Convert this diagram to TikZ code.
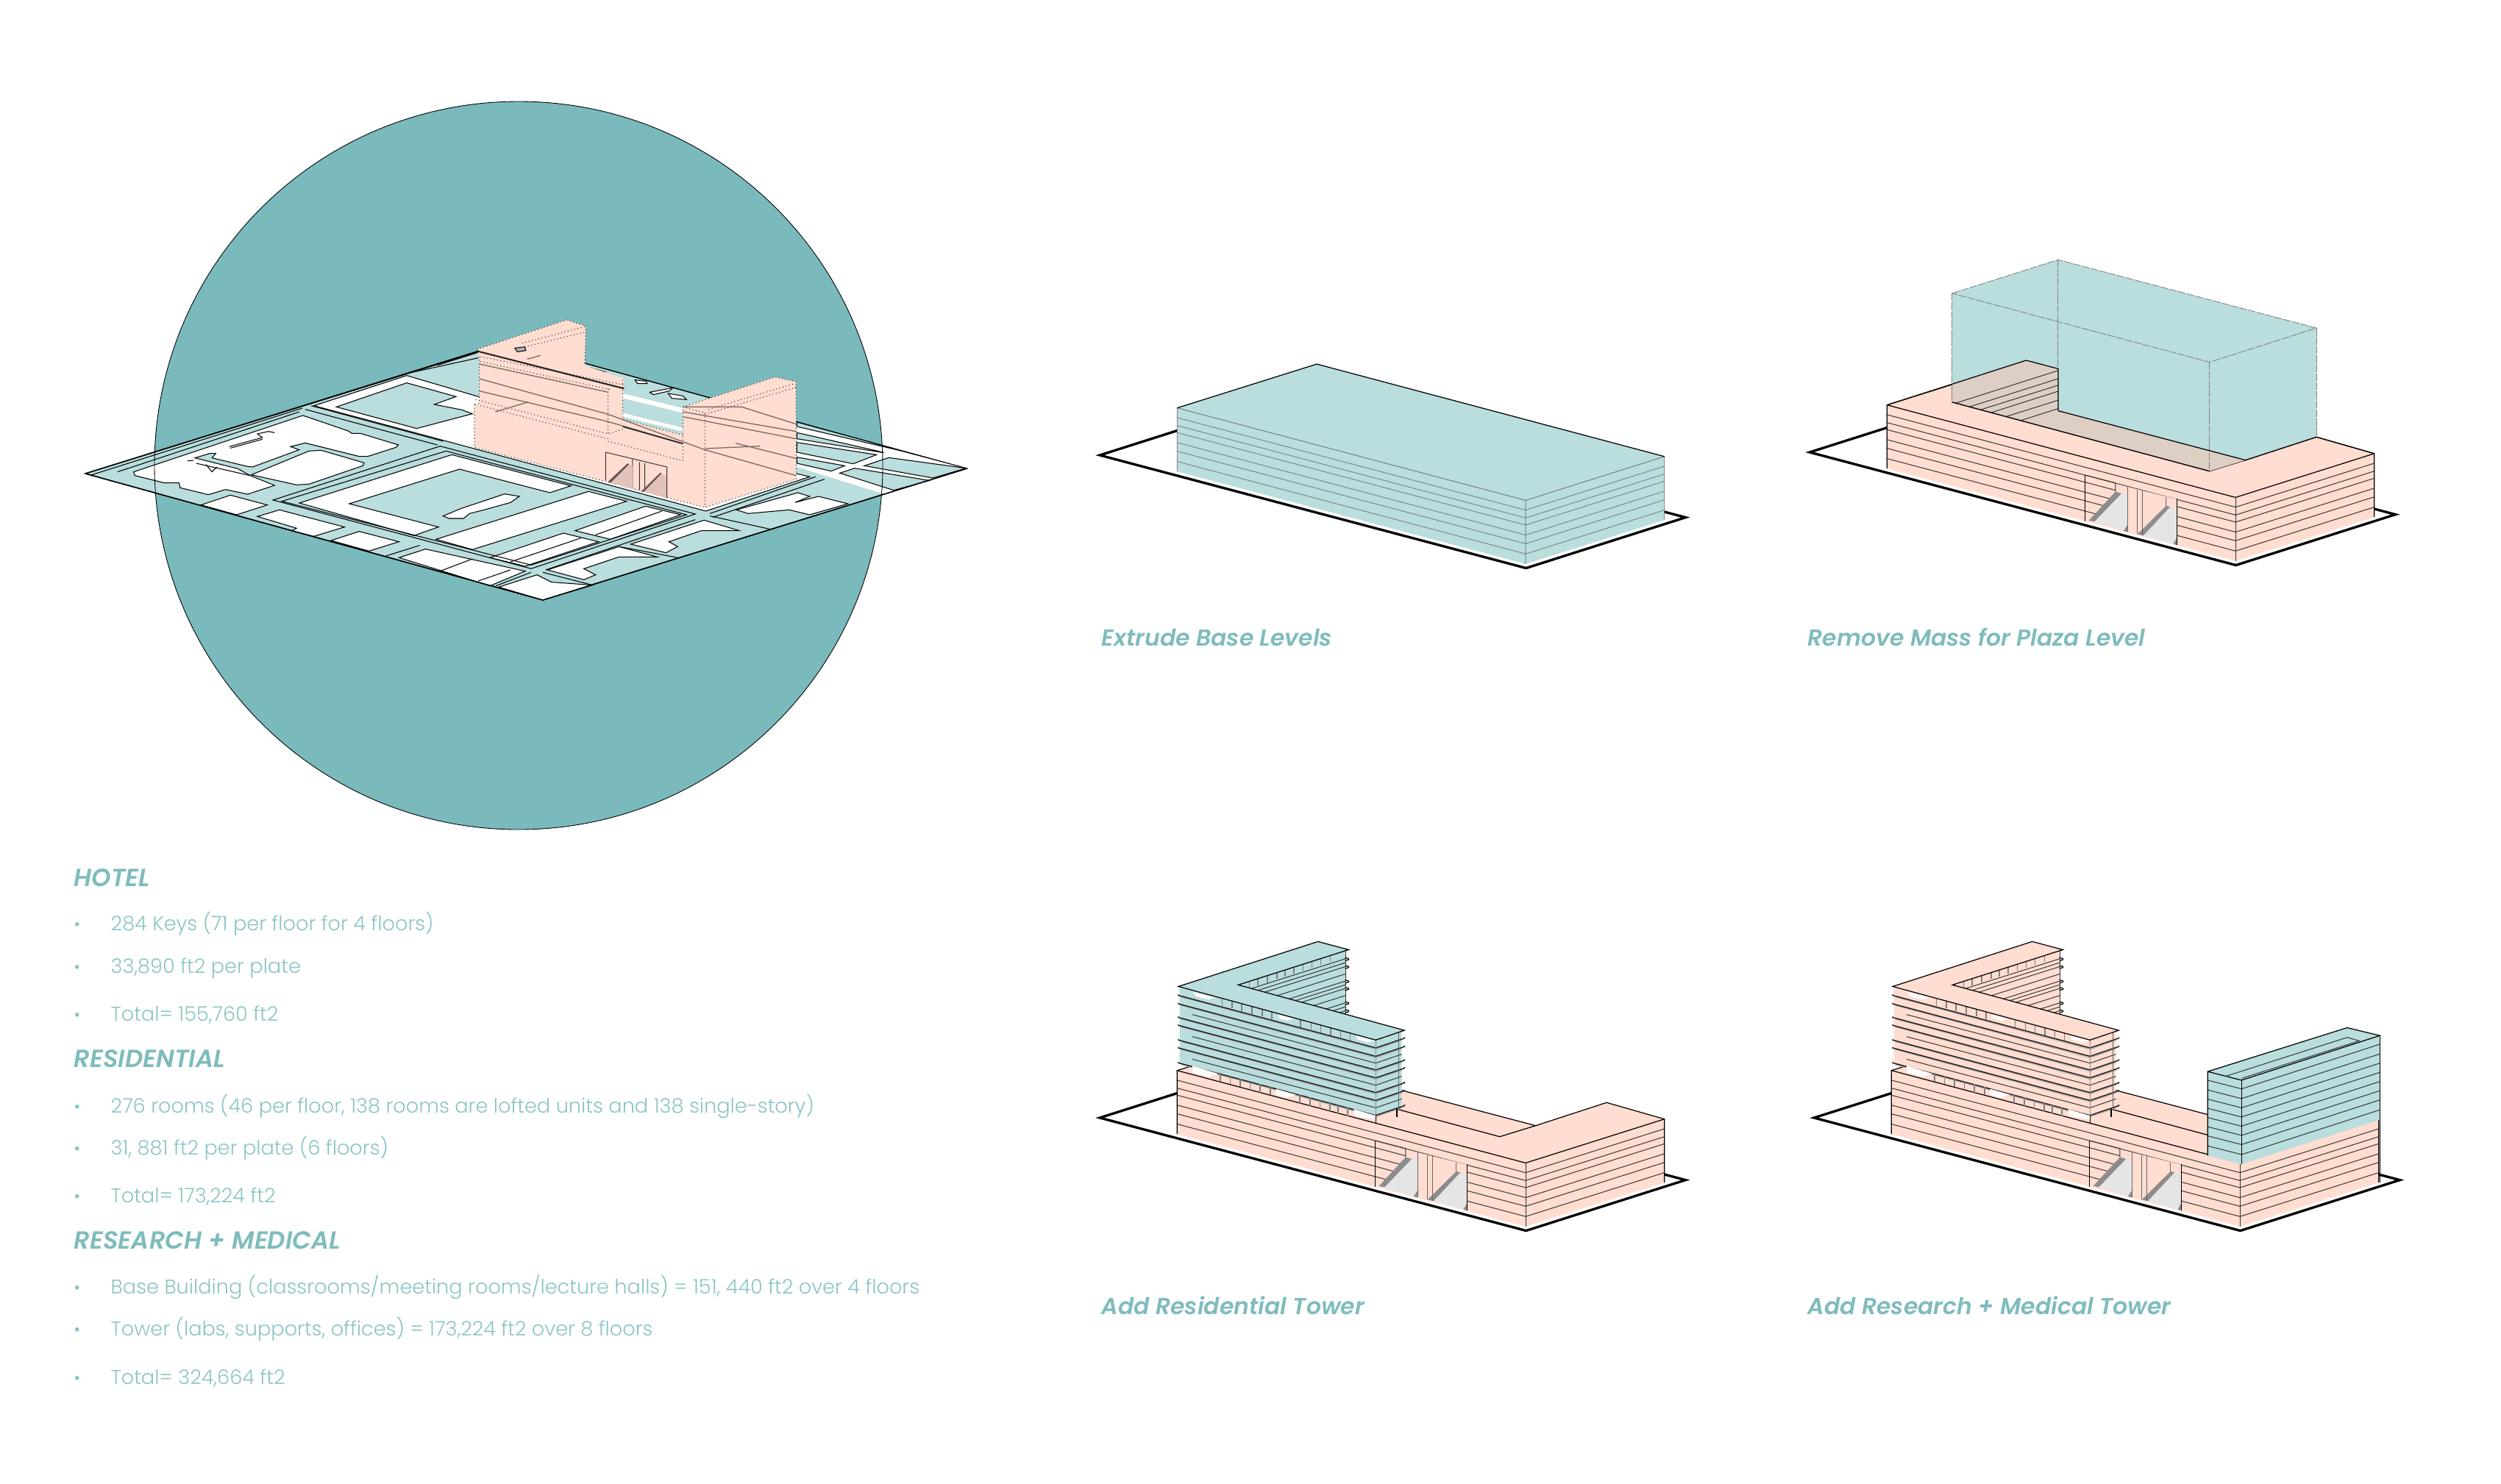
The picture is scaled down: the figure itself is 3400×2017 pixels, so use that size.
\documentclass[tikz,border=0pt]{standalone}
\usepackage{fontspec}
\usepackage{xcolor}
\usepackage{tikz}
\usetikzlibrary{positioning}
\newfontfamily\itemfont[UprightFont=* Light]{Poppins}
\newfontfamily\capfont[UprightFont=* SemiBold Italic]{Poppins}
\definecolor{discteal}{RGB}{122,186,188}
\definecolor{paleteal}{RGB}{186,221,221}
\definecolor{blush}{RGB}{255,221,208}
\definecolor{plazatone}{RGB}{221,207,196}
\definecolor{labelteal}{RGB}{127,188,188}
\definecolor{itemteal}{RGB}{140,196,196}
\definecolor{stipple}{RGB}{225,195,185}
\tikzset{
  panel/.style={xscale=0.542,yscale=0.3571},
  crop/.style={scale=0.3333},
  siteline/.style={line width=0.95pt,line join=miter},
  hair/.style={line width=0.28pt,black!80},
  edge/.style={line width=0.35pt,black},
  plot/.style={fill=white,draw=black,line width=0.3pt},
  ghost/.style={line width=0.25pt,black!50,dash pattern=on 3pt off 0.5pt},
  dots/.style={line width=0.3pt,black!85,densely dotted},
  capnode/.style={anchor=base west,inner sep=0pt,text=labelteal,font=\capfont\fontsize{8.95}{11}\selectfont},
  headnode/.style={anchor=base west,inner sep=0pt,text=labelteal,font=\capfont\fontsize{9.6}{11}\selectfont},
  itemnode/.style={anchor=base west,inner sep=0pt,text=itemteal,font=\itemfont\fontsize{7.73}{9}\selectfont},
  dotnode/.style={anchor=base,inner sep=0pt,text=itemteal,font=\itemfont\fontsize{7}{9}\selectfont}
}
% lot outline under every massing
\newcommand{\siteplate}{\draw[siteline] (28,728)--(1097,1158)--(1497,965)--(428,535)--cycle;}
% floors of the base on both visible faces
\newcommand{\basefloors}{
  \foreach \d in {37,67,94,132,165,204}
    \draw[hair] (222,548+\d)--(1096,900+\d)--(1444,733+\d);
}
% u-shaped base with the two stair openings
\newcommand{\ubase}{
  \fill[white] (222,790)--(1096,1142)--(1444,975)--(1444,733)--(572,381)--(222,548)--cycle;
  \fill[blush] (222,548)--(572,381)--(651,410)--(651,570)--(1121,758)--(1299,670)--(1444,733)
    --(1444,975)--(1096,1142)--(222,790)--cycle;
  \basefloors
  \draw[edge] (222,790)--(222,548)--(1096,900)--(1444,733)--(1444,975);
  \draw[hair] (1096,900)--(1096,1142);
  \draw[edge] (385,537)--(1031,800)--(1121,758)--(651,570);
  \draw[edge] (1121,758)--(1299,670)--(1444,733);
  \draw[edge] (222,548)--(572,381)--(651,410)--(651,570);
  % stair openings
  \fill[blush] (795,848)--(950,907)--(950,1080)--(795,1022)--cycle;
  \fill[black!10] (742,992)--(805,880)--(825,890)--(825,1031)--cycle;
  \fill[black!10] (865,1045)--(928,933)--(950,945)--(950,1082)--cycle;
  \fill[black!45] (728,988)--(795,878)--(810,885)--(742,992)--cycle;
  \fill[black!45] (850,1040)--(922,932)--(932,936)--(865,1045)--cycle;
  \fill[black!45] (815,1028)--(825,1005)--(825,1031)--cycle;
  \fill[black!45] (940,1077)--(950,1050)--(950,1082)--cycle;
  \draw[edge] (719,815)--(719,990);
  \draw[edge] (949,905)--(949,1080);
  \draw[hair] (719,815)--(795,845)--(795,878);
  \foreach \x/\a/\b in {825/860/1031,850/870/1040,862/875/1045,922/900/932}
    \draw[line width=0.2pt,black!60] (\x,\a)--(\x,\b);
}
% l-shaped residential slabs
\newcommand{\slabtower}[1]{
  \fill[#1] (375,222)--(645,92)--(645,334)--cycle;
  \foreach \y [evaluate=\y as \xa using (\y+243.2)/.895] in {122,137,152,180,207,221,235,262,290,305,320}
    \draw[hair] (645,\y)--(\xa,{\y+.48*(645-\xa)});
  \foreach \y in {122,152,207,235,290,320}
    \draw[edge] (643,\y-4)--(652,\y)--(652,\y+4)--(643,\y+8);
  \draw[hair] (645,92)--(645,334);
  \fill[#1] (228,232)--(720,432)--(785,398)--(785,690)--(720,722)--(228,520)--cycle;
  \fill[white] (262,250)--(318,270)--(300,278)--(268,265)--cycle;
  \fill[white] (475,335)--(515,350)--(498,358)--(478,350)--cycle;
  \fill[white] (672,415)--(718,433)--(700,441)--(672,429)--cycle;
  \foreach \d in {88,172,258}
    \draw[hair] (260,247+\d)--(720,432+\d)--(785,398+\d);
  \foreach \d in {30,62,114,144,200,230,287}{
    \draw[line width=0.3pt,black!35] (232,238+\d)--(720,437+\d)--(785,403+\d);
    \draw[line width=0.4pt,black!90] (225,228+\d)--(225,232+\d)--(720,432+\d)--(792,395+\d)--(792,391+\d);
  }
  \draw[line width=0.25pt,black!45] (720,432)--(720,719);
  \draw[line width=0.3pt,black!60] (778,402)--(778,690);
  \foreach \x [evaluate=\x as \yb using 228+(\x-225)*.412] in {335,360,384,410,435,459,532,558,582,607,632,656}
    \draw[line width=0.5pt,black!50] (\x,\yb)--(\x,\yb+28);
  \foreach \x [evaluate=\x as \yc using 222-.484*(\x-375)] in {403,424,448,472,493,515,538,560,582,606}
    \draw[line width=0.45pt,black!50] (\x,\yc)--(\x,\yc+25);
  \fill[#1] (225,228)--(575,57)--(652,88)--(375,222)--(792,395)--(720,432)--cycle;
  \draw[edge] (225,228)--(575,57)--(652,88)--(375,222)--(792,395)--(720,432)--cycle;
  % open storey on top of the base
  \fill[white] (260,530)--(325,560)--(300,572)--(260,555)--cycle;
  \fill[white] (470,618)--(520,640)--(495,652)--(470,640)--cycle;
  \fill[white] (665,695)--(720,720)--(720,735)--(668,720)--cycle;
  \foreach \x [evaluate=\x as \yb using 515+(\x-225)*.412] in {330,355,380,405,430,455,530,555,580,605,625,650}
    \draw[line width=0.5pt,black!50] (\x,\yb)--(\x,\yb+32);
  \draw[edge] (720,719)--(720,748);
  \draw[edge] (773,695)--(773,726);
}

\begin{document}
\begin{tikzpicture}[x=0.01cm,y=-0.01cm]
  \useasboundingbox (0,0) rectangle (3400,2017);

  % disc and site plan
  \fill[discteal] (705,633) circle[radius=495];
  \begin{scope}[shift={(100,400)},xscale=0.7974,yscale=0.3333]
    \filldraw[fill=paleteal,draw=black,line width=0.4pt] (20,732)--(800,1248)--(1522,712)--(742,196)--cycle;
    % lots
    \fill[plot] (410,455)--(568,332)--(700,425)--(1255,745)--(1078,885)--(605,580)--cycle;
    \fill[paleteal,draw=black,line width=0.3pt] (448,460)--(568,362)--(652,418)--(615,450)--(662,472)--(680,488)--(585,548)--cycle;
    \foreach \lot in {
      {(385,852)--(645,655)--(848,782)--(812,810)--(658,714)--(470,855)--(622,950)--(580,985)},
      {(618,1000)--(878,805)--(943,845)--(680,1042)},
      {(630,905)--(660,875)--(735,815)--(760,825)--(745,850)--(700,880)--(675,895)--(665,915)--(640,915)},
      {(855,965)--(975,865)--(1035,900)--(915,1000)},
      {(710,1075)--(835,975)--(895,1010)--(770,1110)},
      {(950,1020)--(1075,922)--(1135,965)--(1070,965)--(1015,1010)--(1030,1030)--(1010,1055)},
      {(808,1125)--(930,1030)--(995,1072)--(930,1072)--(870,1120)--(890,1145)--(870,1165)},
      {(1130,880)--(1235,810)--(1255,825)--(1230,850)--(1270,825)--(1320,855)--(1255,900)--(1220,880)--(1150,895)},
      {(725,1195)--(790,1145)--(815,1175)--(885,1187)--(800,1248)},
      {(555,1075)--(600,1040)--(770,1130)--(710,1190)}
    }
      \filldraw[plot] \lot--cycle;
    % streets
    \foreach \road in {
      {(395,470)--(620,615)}, {(405,455)--(630,600)},
      {(625,620)--(1060,897)--(780,1120)--(340,840)--cycle}, {(635,640)--(1045,900)--(780,1105)--(355,845)--cycle},
      {(75,725)--(385,480)}, {(30,738)--(390,465)},
      {(1085,895)--(1265,745)}, {(1090,910)--(1280,755)},
      {(1085,905)--(1190,960)}, {(930,1030)--(1030,1075)},
      {(780,1135)--(720,1190)}, {(800,1135)--(885,1187)},
      {(530,1070)--(590,1025)}, {(1060,920)--(805,1125)},
      {(890,982)--(1003,885)}, {(745,1092)--(865,995)},
      {(625,1130)--(680,1080)}, {(690,1170)--(745,1125)},
      {(620,290)--(700,230)}, {(575,320)--(690,260)}
    }
      \draw[line width=0.3pt] \road;
  \end{scope}
  % western blocks
  \begin{scope}[shift={(110,500)},crop]
    \filldraw[plot] (215,425)--(905,195)--(965,215)--(1090,258)--(1105,268)--(1140,268)--(1295,315)--(1285,325)
      --(1170,362)--(1135,362)--(915,307)--(855,322)--(890,335)--(700,405)--(680,403)--(535,368)--(550,350)--(525,350)
      --(465,368)--(640,412)--(690,440)--(790,480)--(680,516)--(590,497)--(520,518)--(405,490)--(400,470)--(340,470)--(220,440)--cycle;
    \filldraw[plot] (695,437)--(930,340)--(980,337)--(1155,388)--(1150,400)--(930,475)--(880,478)--cycle;
    \filldraw[plot] (490,560)--(610,520)--(760,560)--(635,600)--cycle;
    \filldraw[plot] (720,607)--(810,580)--(1075,650)--(950,688)--(860,665)--(880,655)--cycle;
    \filldraw[plot] (1020,705)--(1135,668)--(1297,710)--(1175,748)--cycle;
    \draw[line width=0.3pt] (605,322)--(740,285)--(720,270)--(765,260)--(790,265) (610,328)--(740,292)
      (435,380)--(460,378) (470,390)--(690,440) (510,395)--(535,425)--(555,405);
  \end{scope}
  % eastern streets
  \begin{scope}[shift={(1050,500)},crop]
    \fill[white] (100,232)--(790,410)--(495,502)--(455,515)--(100,405)--cycle;
    \foreach \block in {
      {(100,265)--(430,340)--(455,347)--(100,290)},
      {(100,305)--(425,355)--(330,392)--(100,345)},
      {(100,365)--(295,400)--(240,422)--(100,390)},
      {(475,367)--(790,410)--(655,450)--(375,400)},
      {(335,410)--(640,460)--(495,500)--(275,430)},
      {(100,222)--(790,410)--(530,340)--(100,240)}
    }
      \filldraw[fill=paleteal,draw=black,line width=0.3pt] \block--cycle;
  \end{scope}
  \draw[line width=0.25pt] (705,633) circle[radius=495];
  % tower mass over the site
  \begin{scope}[shift={(600,420)},crop]
    \filldraw[plot] (610,240)--(670,258)--(655,268)--(600,250)--cycle;
    \filldraw[plot] (790,290)--(835,295)--(840,305)--(800,305)--cycle;
    \filldraw[plot] (850,340)--(945,322)--(930,335)--(865,350)--cycle;
    \filldraw[plot] (925,345)--(985,355)--(1000,370)--(940,365)--cycle;
    \fill[blush] (135,390)--(155,385)--(155,195)--(145,165)--(510,45)--(590,70)--(585,230)--(745,285)--(740,450)
      --(985,515)--(985,400)--(1360,278)--(1447,297)--(1447,695)--(1075,810)--(135,565)--cycle;
    \fill[white] (740,345)--(985,405)--(985,425)--(740,365)--cycle;
    \fill[paleteal] (740,365)--(985,425)--(985,485)--(740,425)--cycle;
    \fill[white] (740,425)--(985,485)--(985,500)--(740,440)--cycle;
    \draw[dots] (135,390)--(135,565)--(1075,810)--(1447,695)--(1447,297)--(1360,278)--(985,400)--(985,620)
      (145,165)--(510,45)--(590,70)--(585,230) (155,195)--(155,385)--(135,390)
      (680,325)--(680,510) (740,290)--(740,450) (1075,425)--(1075,810) (985,515)--(740,450)
      (680,540)--(985,620) (140,370)--(680,510)--(745,490) (160,395)--(680,530)
      (160,195)--(745,310) (160,215)--(690,330)
      (300,165)--(585,95) (330,140)--(595,70)
      (1090,410)--(1440,305) (1075,430)--(1447,320) (985,400)--(1075,425);
    % roads showing through
    \foreach \tr in {
      {(155,285)--(680,430)--(1075,575)--(1447,680)}, {(155,335)--(680,460)--(985,550)},
      {(155,225)--(680,340)}, {(985,400)--(1225,400)--(1447,470)}, {(985,420)--(1447,500)},
      {(985,440)--(1447,530)}, {(1200,548)--(1447,610)}, {(1075,570)--(1300,560)},
      {(220,420)--(355,380)}, {(350,205)--(405,190)}
    }
      \draw[line width=0.35pt,black!55!blush] \tr;
    \draw[line width=0.6pt,black!85] (145,172)--(745,325);
    \draw[line width=0.5pt,black!85] (740,480)--(985,550);
    \filldraw[fill=black!30,draw=black,line width=0.3pt] (300,160)--(340,155)--(345,170)--(310,175)--cycle;
    % stairs
    \draw[hair] (670,585)--(670,700) (670,585)--(920,645)--(920,770) (780,615)--(780,735) (808,625)--(808,740) (830,630)--(830,745);
    \fill[stipple] (690,710)--(765,632)--(780,640)--(780,735)--cycle;
    \fill[stipple] (825,747)--(895,670)--(918,680)--(918,772)--cycle;
    \fill[black!60!blush] (680,705)--(760,630)--(765,635)--(690,710)--cycle;
    \fill[black!60!blush] (815,745)--(893,668)--(898,672)--(825,747)--cycle;
  \end{scope}
  \begin{scope}[shift={(100,400)},xscale=0.7974,yscale=0.3333]
    \draw[line width=0.4pt] (20,732)--(800,1248)--(1522,712) (20,732)--(690,232);
  \end{scope}

  % extruded base, one mass
  \begin{scope}[shift={(1480,359)},panel]
    \siteplate
    \fill[paleteal] (222,548)--(572,381)--(1444,733)--(1444,975)--(1096,1142)--(222,790)--cycle;
    \foreach \d in {37,67,94,132,165,204}
      \draw[line width=0.22pt,black!55] (222,548+\d)--(1096,900+\d)--(1444,733+\d);
    \draw[line width=0.22pt,black!60] (222,790)--(222,548)--(1096,900)--(1444,733)--(1444,975) (1096,900)--(1096,1142);
    \draw[edge] (222,548)--(572,381)--(1444,733);
  \end{scope}

  % plaza cut out of the block
  \begin{scope}[shift={(2445,355)},panel]
    \siteplate
    \ubase
    \fill[paleteal] (651,-5)--(1299,255)--(1299,670)--(1121,758)--(651,570)--(651,410)--(571,378)--(385,470)--(385,123)--cycle;
    \fill[plazatone] (571,378)--(651,410)--(651,570)--(1121,758)--(1031,800)--(385,537)--(385,470)--cycle;
    \foreach \xa/\ya/\yb in {394/541/417,429/555/448,457/566/473,483/577/496,521/592/530,557/607/562}
      \draw[hair] (\xa,\ya)--(651,\yb);
    \draw[ghost] (385,123)--(651,-5)--(1299,255)--(1031,385)--cycle;
    \draw[ghost] (651,-5)--(651,410) (385,123)--(385,537) (1031,385)--(1031,800) (1299,255)--(1299,670);
    \draw[edge] (222,548)--(571,378)--(651,410)--(651,570)--(1121,758)--(1299,670)--(1444,733);
    \draw[edge] (385,537)--(1031,800);
  \end{scope}

  % residential slabs on the base
  \begin{scope}[shift={(1480,1260)},panel]
    \siteplate
    \ubase
    \slabtower{paleteal}
  \end{scope}

  % research tower on the east wing
  \begin{scope}[shift={(2451,1260)},panel]
    \siteplate
    \ubase
    \slabtower{blush}
    \fill[paleteal] (1015,552)--(1365,385)--(1447,415)--(1447,735)--(1100,905)--(1015,872)--cycle;
    \foreach \d in {33,70,105,140,175,210,245,283}
      \draw[hair] (1015,552+\d)--(1100,585+\d)--(1447,415+\d);
    \draw[edge] (1015,872)--(1015,552)--(1365,385)--(1447,415)--(1100,585)--(1015,552);
    \draw[edge] (1100,585)--(1100,905) (1447,415)--(1447,975);
    \draw[hair] (1060,570)--(1365,422)--(1395,435)--(1100,578);
  \end{scope}

  % captions
  \node[capnode] (capbase) at (1497,878) {Extrude Base Levels};
  \node[capnode] (capplaza) at (2457,878) {Remove Mass for Plaza Level};
  \node[capnode] (capres) at (1497,1787) {Add Residential Tower};
  \node[capnode] (capmed) at (2457,1787) {Add Research + Medical Tower};

  % program areas
  \node[headnode] (hotel) at (100,1205) {HOTEL};
  \node[headnode] (residential) at (100,1451) {RESIDENTIAL};
  \node[headnode] (research) at (100,1698) {RESEARCH + MEDICAL};
  \foreach \n/\y/\t in {
    1/1265/{284 Keys (71 per floor for 4 floors)},
    2/1323/{33,890 ft2 per plate},
    3/1388/{Total= 155,760 ft2},
    4/1513/{276 rooms (46 per floor, 138 rooms are lofted units and 138 single-story)},
    5/1570/{31, 881 ft2 per plate (6 floors)},
    6/1635/{Total= 173,224 ft2},
    7/1759/{Base Building (classrooms/meeting rooms/lecture halls) = 151, 440 ft2 over 4 floors},
    8/1816/{Tower (labs, supports, offices) = 173,224 ft2 over 8 floors},
    9/1882/{Total= 324,664 ft2}}{
    \node[itemnode] (item\n) at (150,\y) {\t};
    \node[dotnode] (dot\n) at (105,\y) {•};
  }
\end{tikzpicture}
\end{document}
